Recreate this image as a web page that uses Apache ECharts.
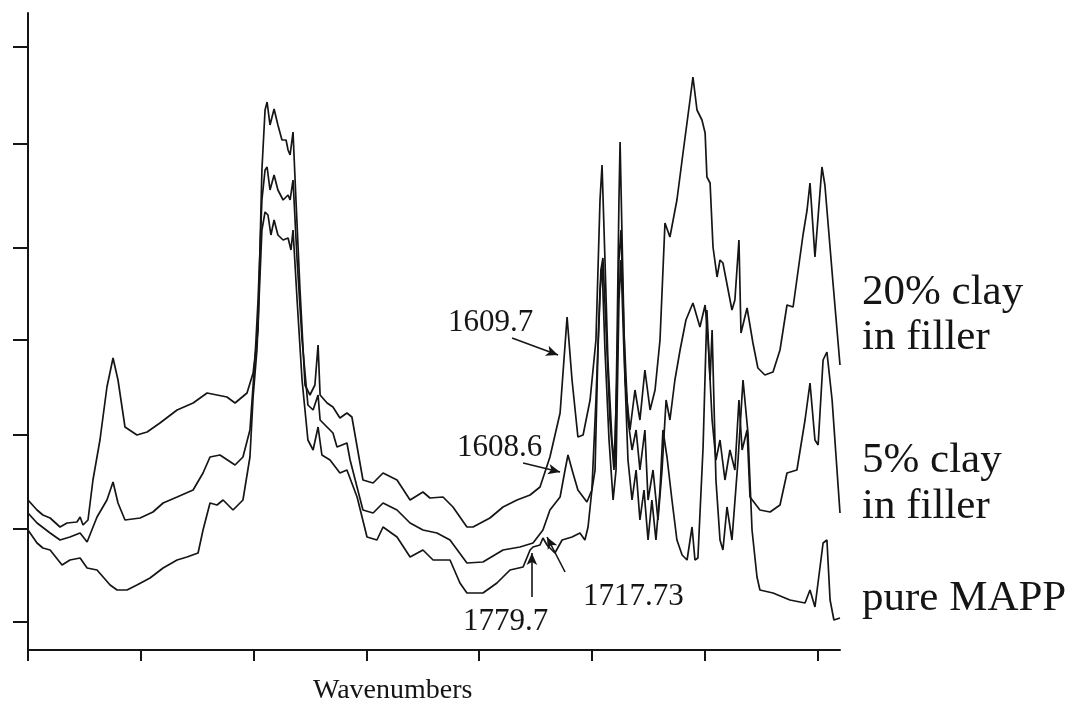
<!DOCTYPE html>
<html>
<head>
<meta charset="utf-8">
<script src="https://cdn.jsdelivr.net/npm/echarts@6/dist/echarts.min.js"></script>
<style>
html,body{margin:0;padding:0;background:#fff;}
#chart{width:1071px;height:708px;}
</style>
</head>
<body>
<div id="chart"></div>
<script>
// x: wavenumber (cm-1), y: absorbance (arbitrary units)
const wavenumberTicks = [4000, 3500, 3000, 2500, 2000, 1500, 1000, 500];
const absorbanceTicks = [0.28, 1.21, 2.15, 3.10, 4.02, 5.06, 6.03];

const clay20 = [
[4000,1.50],[3960,1.40],[3934,1.35],[3902,1.32],[3858,1.23],[3827,1.27],[3783,1.28],[3769,1.33],[3756,1.25],[3734,1.30],
[3712,1.70],[3681,2.10],[3650,2.63],[3623,2.92],[3601,2.70],[3570,2.23],[3517,2.15],[3472,2.18],[3415,2.27],[3339,2.40],
[3268,2.47],[3206,2.57],[3162,2.55],[3118,2.53],[3082,2.47],[3029,2.57],[3002,2.77],[2980,3.20],[2963,4.80],[2949,5.40],
[2940,5.48],[2927,5.25],[2909,5.41],[2892,5.25],[2874,5.10],[2856,5.10],[2847,5.00],[2838,4.95],[2825,5.18],[2812,4.50],
[2794,3.60],[2772,2.65],[2750,2.55],[2728,2.65],[2714,3.05],[2705,2.55],[2674,2.47],[2648,2.43],[2617,2.32],[2586,2.37],
[2564,2.33],[2515,1.70],[2470,1.67],[2426,1.77],[2364,1.70],[2306,1.50],[2249,1.58],[2218,1.52],[2160,1.53],[2116,1.43],
[2054,1.23],[2027,1.23],[1952,1.32],[1894,1.43],[1832,1.50],[1774,1.55],[1730,1.63],[1686,1.93],[1641,2.37],[1619,3.05],
[1610,3.33],[1588,2.70],[1562,2.13],[1539,2.15],[1508,2.50],[1482,3.10],[1464,4.50],[1455,4.85],[1442,3.90],[1429,2.90],
[1411,2.10],[1398,1.83],[1389,3.00],[1380,4.50],[1375,5.08],[1366,4.10],[1353,2.70],[1331,2.20],[1309,2.60],[1287,2.30],
[1265,2.80],[1242,2.40],[1220,2.60],[1198,3.10],[1176,4.27],[1154,4.13],[1123,4.50],[1096,4.97],[1065,5.50],[1052,5.73],
[1034,5.40],[1012,5.30],[998,5.17],[990,4.73],[976,4.67],[963,4.03],[945,3.73],[932,3.90],[919,3.87],[879,3.40],
[866,3.50],[848,4.10],[839,3.17],[812,3.42],[786,3.07],[764,2.82],[733,2.75],[697,2.78],[666,3.00],[635,3.45],
[608,3.43],[564,4.15],[546,4.40],[533,4.67],[511,3.93],[480,4.83],[467,4.65],[431,3.67],[400,2.85]
];

const clay5 = [
[4000,1.37],[3960,1.27],[3902,1.17],[3858,1.10],[3814,1.13],[3769,1.17],[3738,1.08],[3694,1.33],[3650,1.50],[3623,1.68],
[3601,1.47],[3570,1.30],[3503,1.32],[3446,1.38],[3401,1.47],[3339,1.53],[3268,1.60],[3224,1.77],[3193,1.93],[3149,1.95],
[3082,1.85],[3047,1.93],[3016,2.20],[2994,2.90],[2980,3.50],[2963,4.50],[2949,4.80],[2940,4.83],[2927,4.60],[2909,4.75],
[2892,4.60],[2869,4.50],[2847,4.55],[2838,4.50],[2825,4.70],[2807,3.90],[2785,3.10],[2759,2.45],[2736,2.40],[2714,2.55],
[2705,2.30],[2648,2.17],[2630,2.03],[2586,2.07],[2572,1.90],[2515,1.40],[2470,1.37],[2426,1.47],[2364,1.40],[2306,1.27],
[2249,1.20],[2187,1.17],[2129,1.10],[2054,0.87],[1983,0.88],[1894,1.00],[1819,1.03],[1761,1.07],[1717,1.20],[1686,1.40],
[1641,1.53],[1619,1.80],[1606,1.95],[1584,1.77],[1562,1.60],[1522,1.48],[1500,1.60],[1486,1.80],[1473,3.00],[1460,3.80],
[1451,3.92],[1437,3.20],[1420,2.30],[1402,1.80],[1389,2.70],[1380,3.90],[1371,4.20],[1358,3.20],[1340,2.30],[1322,2.00],
[1304,2.20],[1287,1.80],[1265,2.20],[1251,1.50],[1229,1.80],[1207,1.30],[1189,1.80],[1171,2.50],[1154,2.30],[1132,2.70],
[1109,3.00],[1083,3.30],[1052,3.47],[1021,3.23],[998,3.45],[985,3.10],[967,2.30],[950,1.90],[932,2.10],[910,1.70],
[888,2.00],[866,1.80],[848,2.50],[834,2.00],[812,2.20],[799,1.53],[755,1.40],[710,1.38],[666,1.45],[635,1.77],
[591,1.80],[555,2.30],[533,2.67],[511,2.10],[497,2.05],[475,2.90],[458,2.98],[435,2.50],[400,1.37]
];

const pureMAPP = [
[4000,1.20],[3960,1.07],[3934,1.02],[3902,1.00],[3849,0.85],[3814,0.90],[3769,0.92],[3738,0.82],[3694,0.80],[3636,0.65],
[3605,0.60],[3561,0.60],[3517,0.65],[3459,0.72],[3401,0.82],[3339,0.90],[3295,0.93],[3246,0.97],[3224,1.20],[3193,1.47],
[3162,1.45],[3135,1.50],[3091,1.40],[3047,1.50],[3016,1.93],[3002,2.53],[2985,3.00],[2963,4.20],[2949,4.38],[2936,4.35],
[2923,4.15],[2909,4.30],[2892,4.15],[2869,4.10],[2847,4.12],[2834,4.00],[2825,4.20],[2807,3.50],[2785,2.70],[2759,2.10],
[2736,2.00],[2714,2.23],[2697,1.95],[2661,1.90],[2617,1.77],[2586,1.80],[2541,1.53],[2497,1.13],[2453,1.10],[2426,1.23],
[2364,1.13],[2306,0.93],[2249,1.00],[2204,0.90],[2129,0.90],[2085,0.67],[2054,0.57],[1983,0.57],[1921,0.67],[1863,0.80],
[1805,0.83],[1774,1.00],[1761,1.03],[1730,1.05],[1717,1.12],[1699,1.05],[1664,0.97],[1632,1.10],[1588,1.13],[1553,1.17],
[1531,1.10],[1517,1.23],[1500,1.60],[1482,2.50],[1464,3.60],[1455,3.85],[1442,3.00],[1424,2.10],[1406,1.50],[1393,1.80],
[1380,3.50],[1371,3.90],[1358,3.00],[1340,1.90],[1322,1.50],[1304,1.80],[1287,1.30],[1269,1.60],[1251,1.10],[1234,1.50],
[1216,1.10],[1198,1.60],[1185,2.20],[1167,1.93],[1145,1.50],[1123,1.10],[1100,0.95],[1078,0.90],[1056,1.23],[1043,0.90],
[1030,0.92],[1007,2.03],[990,3.40],[976,2.70],[967,3.20],[950,1.70],[932,1.10],[919,1.00],[901,1.43],[879,1.10],
[852,1.90],[830,2.70],[808,2.17],[790,1.20],[768,0.73],[755,0.60],[697,0.57],[622,0.50],[555,0.47],[533,0.60],
[511,0.43],[475,1.07],[458,1.10],[444,0.50],[427,0.30],[400,0.32]
];

// annotation arrows: [startWavenumber, startAbs, endWavenumber, endAbs]
const arrows = [
  [1854, 3.12, 1650, 2.95],
  [1805, 1.87, 1641, 1.78],
  [1766, 0.53, 1766, 0.97],
  [1619, 0.78, 1699, 1.13]
];

const chart = echarts.init(document.getElementById('chart'), null, {renderer: 'canvas'});
const ink = '#151515';
const serif = '"Liberation Serif", "Times New Roman", serif';

function lineSeries(name, data, extra) {
  return Object.assign({
    name: name,
    type: 'line',
    data: data,
    showSymbol: false,
    symbol: 'none',
    silent: true,
    lineStyle: {color: ink, width: 1.7},
    z: 3
  }, extra || {});
}

function text(str, x, y, size) {
  return {
    type: 'text', x: x, y: y, silent: true,
    style: {text: str, font: size + 'px ' + serif, fill: ink, align: 'left', verticalAlign: 'middle'}
  };
}

chart.setOption({
  animation: false,
  backgroundColor: '#ffffff',
  grid: {left: 28, right: 231, top: 13, bottom: 58, containLabel: false},
  xAxis: {
    type: 'value', min: 400, max: 4000, inverse: true,
    axisLine: {show: true, lineStyle: {color: ink, width: 2}},
    axisTick: {show: true, inside: false, length: 11, customValues: wavenumberTicks, lineStyle: {color: ink, width: 2}},
    axisLabel: {show: false},
    splitLine: {show: false}
  },
  yAxis: {
    type: 'value', min: 0, max: 6.37,
    axisLine: {show: true, onZero: false, lineStyle: {color: ink, width: 2}},
    axisTick: {show: true, inside: false, length: 15, customValues: absorbanceTicks, lineStyle: {color: ink, width: 2}},
    axisLabel: {show: false},
    splitLine: {show: false}
  },
  series: [
    lineSeries('20% clay in filler', clay20),
    lineSeries('5% clay in filler', clay5),
    lineSeries('pure MAPP', pureMAPP, {
      markLine: {
        silent: true,
        symbol: ['none', 'arrow'],
        symbolSize: [8, 12],
        label: {show: false},
        lineStyle: {color: ink, width: 1.6, type: 'solid'},
        data: arrows.map(a => [{coord: [a[0], a[1]]}, {coord: [a[2], a[3]]}])
      }
    })
  ],
  graphic: [
    text('1609.7', 448, 323, 31),
    text('1608.6', 457, 448, 31),
    text('1779.7', 463, 622, 31),
    text('1717.73', 583, 597, 31),
    text('Wavenumbers', 313, 691, 28),
    text('20% clay', 862, 293, 43),
    text('in filler', 862, 338, 43),
    text('5% clay', 862, 461, 43),
    text('in filler', 862, 507, 43),
    text('pure MAPP', 862, 599, 43)
  ]
});
</script>
</body>
</html>
